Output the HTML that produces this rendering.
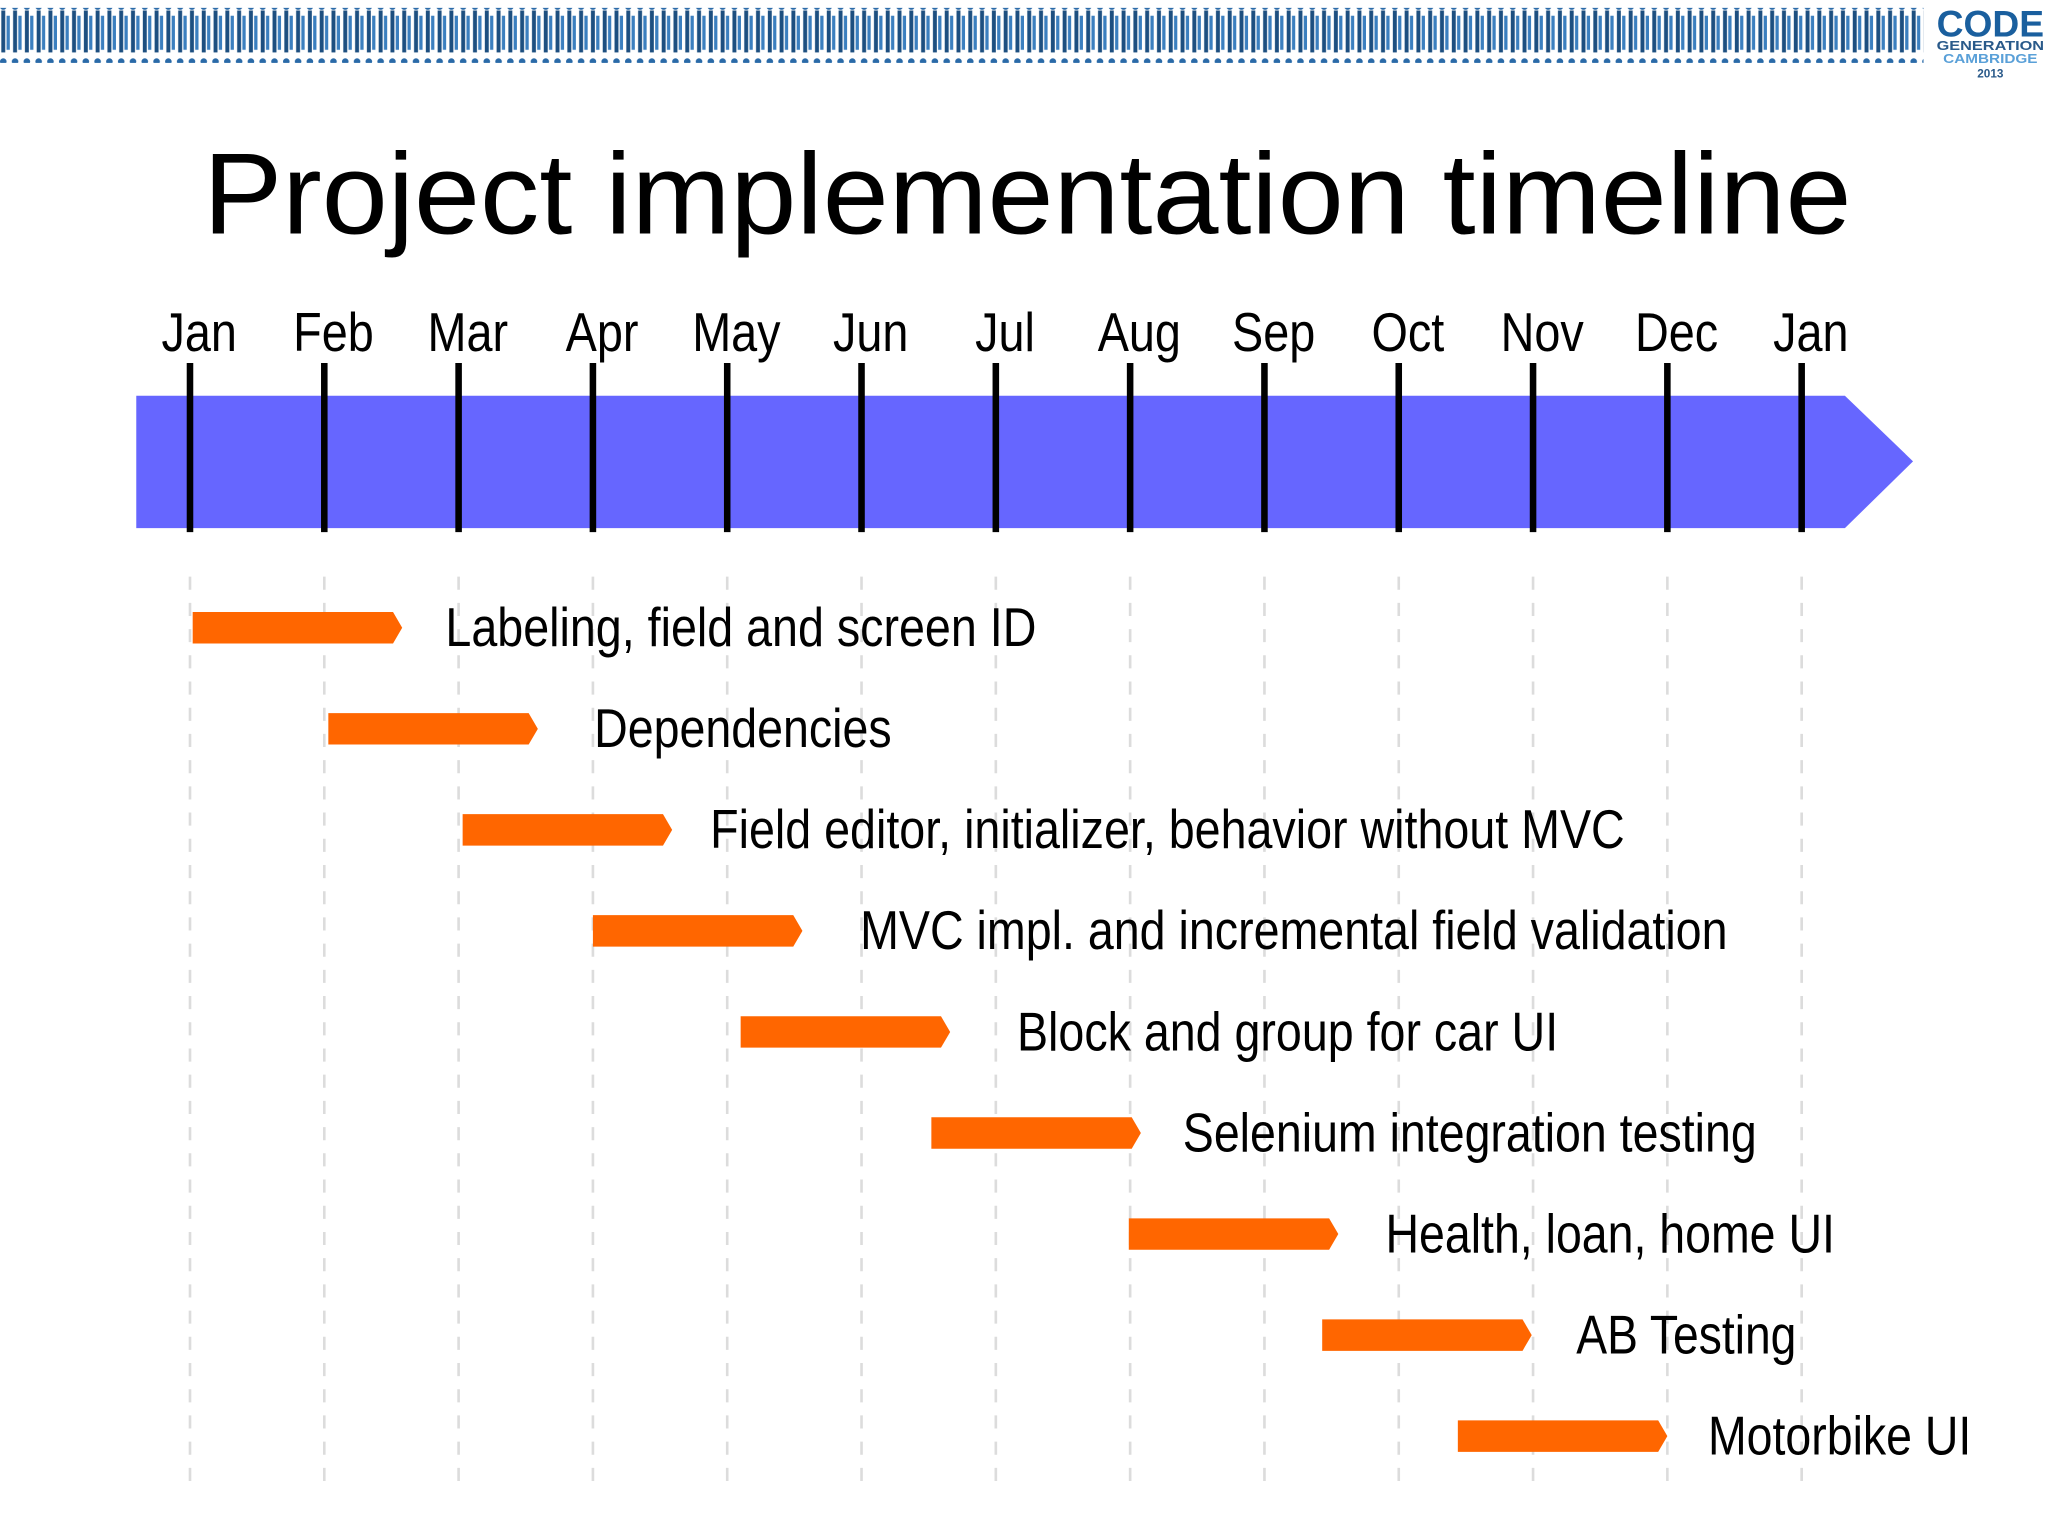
<!DOCTYPE html>
<html><head><meta charset="utf-8"><style>
html,body{margin:0;padding:0;background:#fff;}
svg{display:block;}
text{font-family:"Liberation Sans Narrow","Liberation Sans",sans-serif;}
</style></head><body>
<svg id="chart" width="2048" height="1536" viewBox="0 0 1563 1172" preserveAspectRatio="none" xmlns="http://www.w3.org/2000/svg">
  <defs>
    <pattern id="people" x="0" y="0" width="9" height="42" patternUnits="userSpaceOnUse">
      <rect x="1" y="8" width="3" height="32" fill="#1d4f80"/>
      <circle cx="2.5" cy="5" r="2.5" fill="#2a6aa8"/>
      <rect x="5" y="12" width="2.5" height="26" fill="#3b7fbf"/>
    </pattern>
  </defs>
  <rect x="0" y="6" width="1468" height="42" fill="url(#people)"/>
  <g>
    <text x="1519" y="28" text-anchor="middle" font-size="28" font-weight="bold" fill="#1a5f9e" textLength="82" lengthAdjust="spacingAndGlyphs">CODE</text>
    <text x="1519" y="38" text-anchor="middle" font-size="10" font-weight="bold" fill="#2a5a8a" textLength="82" lengthAdjust="spacingAndGlyphs">GENERATION</text>
    <text x="1519" y="48" text-anchor="middle" font-size="10" font-weight="bold" fill="#5aa0d8" textLength="72" lengthAdjust="spacingAndGlyphs">CAMBRIDGE</text>
    <text x="1519" y="59" text-anchor="middle" font-size="9" font-weight="bold" fill="#2a5a8a">2013</text>
  </g>
  <text x="784" y="178" text-anchor="middle" font-size="88" fill="#000" style="font-family:'Liberation Sans',sans-serif" textLength="1258" lengthAdjust="spacingAndGlyphs">Project implementation timeline</text>
  <g id="grid"></g>
  <polygon points="104,302 1408,302 1460,352 1408,403 104,403" fill="#6666ff"/>
  <g id="ticks"></g>
  <g id="tasks"></g>
</svg>
<script>
const months = ["Jan","Feb","Mar","Apr","May","Jun","Jul","Aug","Sep","Oct","Nov","Dec","Jan"];
const taskNames = ["Labeling, field and screen ID","Dependencies","Field editor, initializer, behavior without MVC","MVC impl. and incremental field validation","Block and group for car UI","Selenium integration testing","Health, loan, home UI","AB Testing","Motorbike UI"];
const taskStart = [0.02,1.03,2.03,3.0,4.1,5.52,6.99,8.43,9.44];
const taskEnd = [1.58,2.59,3.59,4.56,5.66,7.08,8.55,9.99,11.0];
const labelWidths = [451,227,698,662,413,438,343,168,201];
const labelGaps = [33,43,29,44,51,32,36,34,31];

const NS = "http://www.w3.org/2000/svg";
const x0 = 145, mw = 102.5;
function xs(m){ return x0 + m*mw; }
function ys(i){ return 479 + i*77.1; }
function mk(tag, attrs, parent){ const e=document.createElementNS(NS,tag); for(const k in attrs) e.setAttribute(k,attrs[k]); parent.appendChild(e); return e; }

const grid=document.getElementById('grid'), ticks=document.getElementById('ticks'), tasks=document.getElementById('tasks');
months.forEach((m,i)=>{
  const x=xs(i);
  const g=mk('line',{x1:x,x2:x,y1:440,y2:1135,stroke:'#dcdcdc','stroke-width':2,'stroke-dasharray':'10,10'},grid);
  
  
  const t=mk('line',{x1:x,x2:x,y1:277,y2:406,stroke:'#000','stroke-width':5},ticks);
  
  
  const l=mk('text',{x:x+7,y:268,'text-anchor':'middle','font-size':42,fill:'#000',transform:`translate(${x+7},0) scale(0.85,1) translate(${-(x+7)},0)`},ticks);
  l.textContent=m;
  
  
});
taskNames.forEach((n,i)=>{
  const a=xs(taskStart[i]), b=xs(taskEnd[i]), y=ys(i), h=12;
  const p=mk('polygon',{points:`${a},${y-h} ${b-7},${y-h} ${b},${y} ${b-7},${y+h} ${a},${y+h}`,fill:'#ff6600'},tasks);
  
  
  const t=mk('text',{x:b+labelGaps[i],y:y+14,'font-size':42,fill:'#000',textLength:labelWidths[i],lengthAdjust:'spacingAndGlyphs'},tasks);
  t.textContent=n;
  
  
});
</script>
</body></html>
